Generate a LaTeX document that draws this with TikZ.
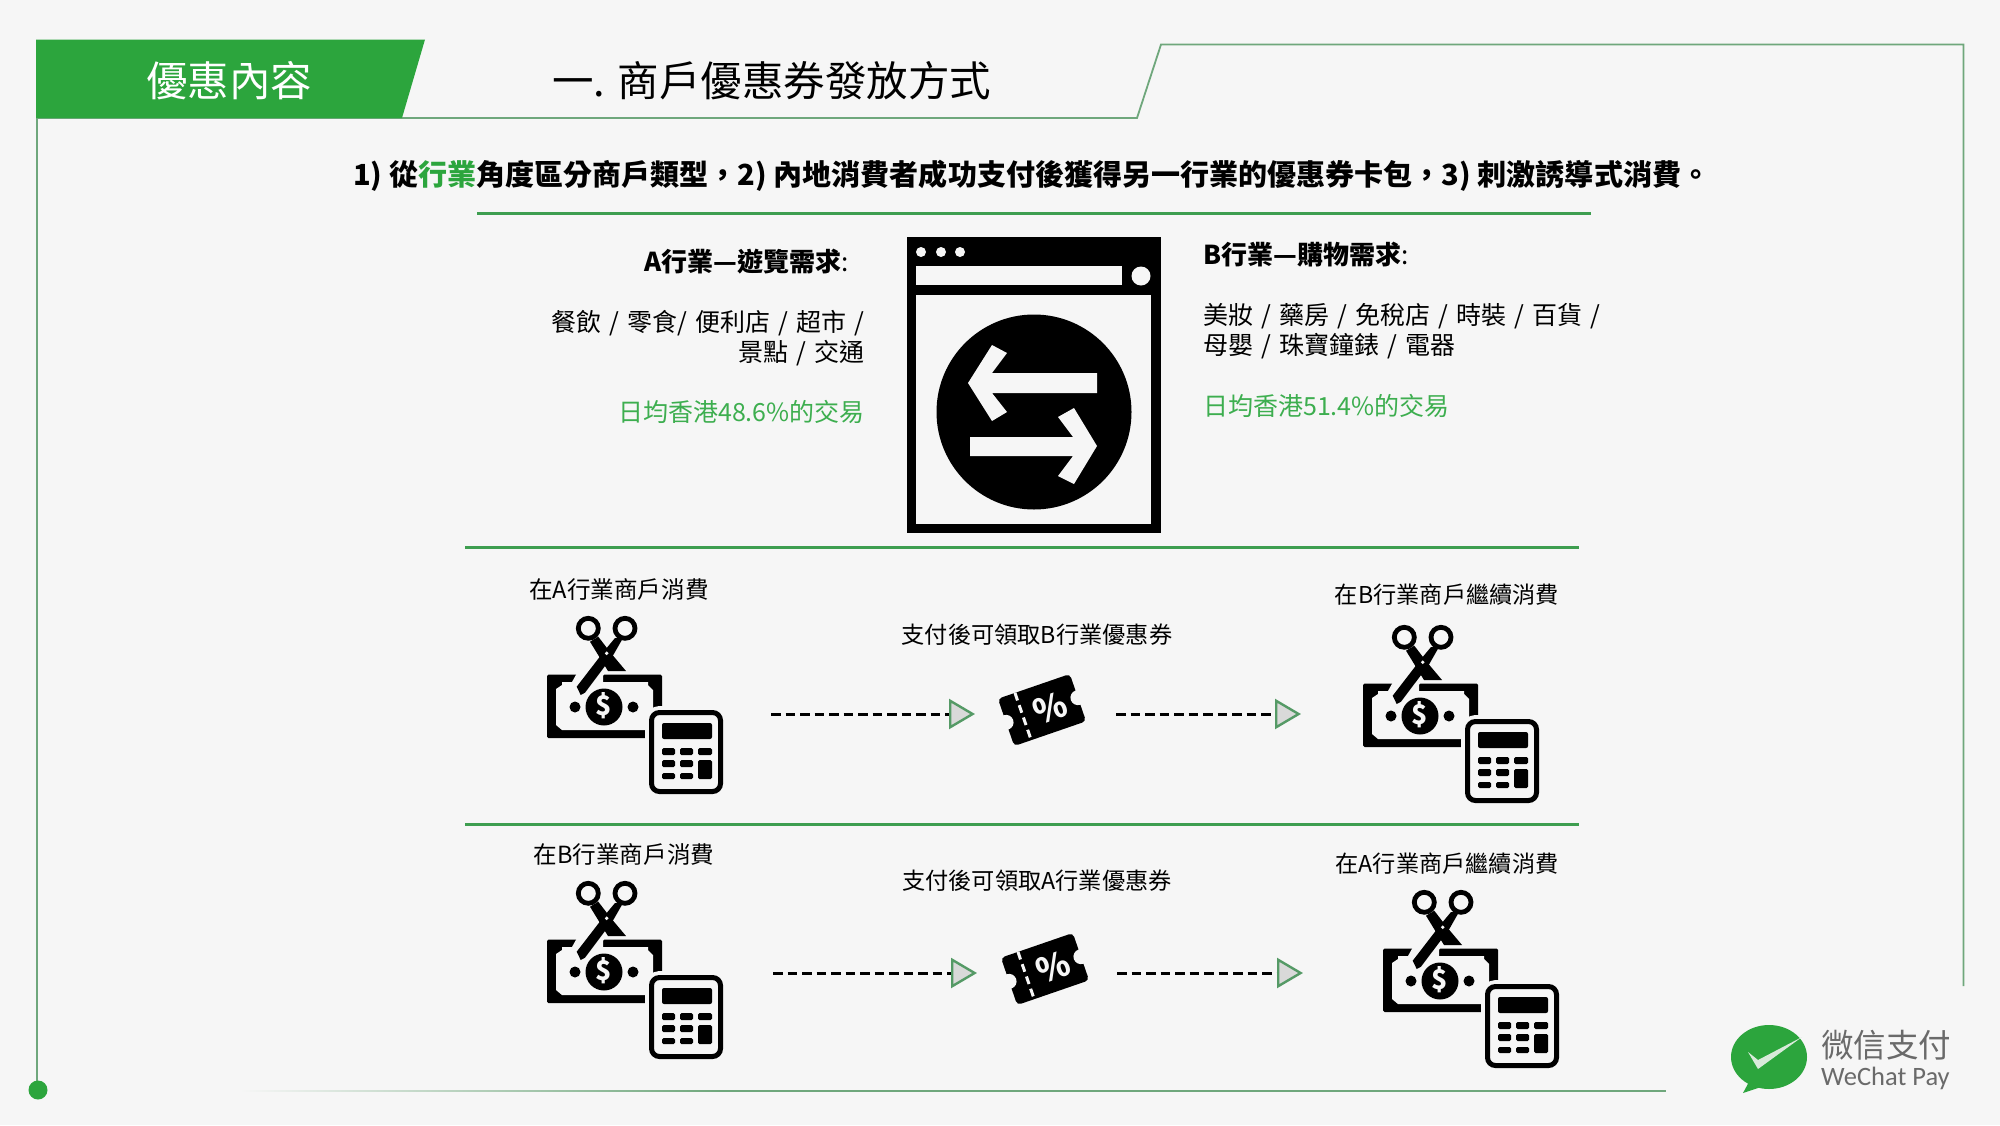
\documentclass[tikz,border=0pt]{standalone}
\usepackage{fontspec}
\setmainfont{Noto Sans CJK TC}
\newfontfamily\bodyf[WordSpace=1.45]{Noto Sans CJK TC}
\newfontfamily\latinlogo{Carlito}
\usetikzlibrary{arrows.meta}
\definecolor{bgc}{HTML}{F6F6F6}
\definecolor{hdr}{HTML}{2CA53D}
\definecolor{thinl}{HTML}{6FA77C}
\definecolor{rulec}{HTML}{3E9E50}
\definecolor{txtg}{HTML}{3DAE4F}
\definecolor{tipg}{HTML}{559A66}
\definecolor{logog}{HTML}{6A6A6A}
\newcommand{\fs}[1]{\fontsize{#1}{#1}\selectfont}
\tikzset{
  frameline/.style={draw=thinl,line width=1.8pt},
  rulegreen/.style={draw=rulec,line width=3pt},
  label/.style={inner sep=0pt,font=\fs{23.2}},
  shortlabel/.style={inner sep=0pt,font=\fs{23.6}},
  dashflow/.style={draw=black,line width=3pt,dash pattern=on 9.5pt off 5pt,
    -{Triangle[length=26pt,width=30pt,fill=black!15,color=tipg,line width=2.4pt]}},
  bodytxt/.style={inner sep=0pt,font=\bodyf\fs{25}},
  headtxt/.style={inner sep=0pt,font=\fs{26}}
}
\newcommand{\payicon}[2]{%
\begin{scope}[shift={(#1,#2)}]
  % note frame
  \fill[black,rounded corners=1.5pt] (27,74.5) rectangle (142,138);
  \fill[bgc] (42,82) -- (128,82) -- (128,85) -- (133,90) -- (133,125) -- (128,130) -- (42,130) -- (36,125) -- (36,89) -- (42,85) -- cycle;
  \fill[black] (84,107) circle (18.5);
  \fill[black] (55,107) circle (5.5);
  \fill[black] (113,107) circle (5.5);
  \node[inner sep=0pt,text=bgc,font=\fs{27}\bfseries] at (84,106) {\$};
  % scissors
  \fill[bgc] (57,73) -- (83,73) -- (83,83) -- (50,83) -- (52,82) -- cycle;
  \draw[bgc,line width=5pt] (93,58) -- (65,96);
  \draw[black,line width=4.8pt] (68.3,28.3) circle (10);
  \draw[black,line width=4.8pt] (105,28.3) circle (10);
  \fill[black] (70,41.7) -- (78.3,36.7) -- (90,52) -- (106,71) -- (88,71) -- (80,58) -- cycle;
  \fill[black] (103,38) -- (95,38) -- (85,50) -- (56.7,86.7) -- (60.7,95) -- (65,92.7) -- (93.3,55) -- cycle;
  \fill[bgc] (86.7,53.3) circle (1.9);
  % calculator
  \draw[bgc,line width=12pt,rounded corners=9pt,fill=bgc] (131,112) rectangle (201,192);
  \draw[black,line width=5pt,rounded corners=8pt,fill=bgc] (131.5,112.5) rectangle (200.5,191.5);
  \fill[black,rounded corners=2pt] (142,123) rectangle (192,139);
  \fill[black,rounded corners=1.5pt] (142,148) rectangle (155,155);
  \fill[black,rounded corners=1.5pt] (160,148) rectangle (173,155);
  \fill[black,rounded corners=1.5pt] (178,148) rectangle (192,155);
  \fill[black,rounded corners=1.5pt] (142,160) rectangle (155,167);
  \fill[black,rounded corners=1.5pt] (160,160) rectangle (173,167);
  \fill[black,rounded corners=1.5pt] (142,173) rectangle (155,179);
  \fill[black,rounded corners=1.5pt] (160,173) rectangle (173,179);
  \fill[black,rounded corners=1.5pt] (178,160) rectangle (192,179);
\end{scope}}
\newcommand{\coupon}[3]{%
\begin{scope}[shift={(#2,#3)},rotate=19]
  \fill[black,rounded corners=4pt] (-38,-25) rectangle (38,25);
  \fill[bgc] (-38,0) circle (7.5);
  \fill[bgc] (38,0) circle (7.5);
  \draw[bgc,line width=3pt,dash pattern=on 8pt off 5pt] (-20,-25) -- (-20,25);
  \node[inner sep=0pt,text=bgc,font=\fs{34}\bfseries,rotate=19] (#1) at (8,1) {\%};
\end{scope}}
\begin{document}
\begin{tikzpicture}[x=1pt,y=-1pt]
\useasboundingbox (0,0) rectangle (2000,1125);
\fill[bgc] (0,0) rectangle (2000,1125);
% frame
\draw[frameline] (36,118) -- (1137,118) -- (1161,44.5) -- (1963.5,44.5) -- (1963.5,986);
\draw[frameline] (37,118) -- (37,1090);
\fill[hdr] (38,1090) circle (9.5);
\shade[left color=bgc,right color=thinl] (240,1090) rectangle (720,1091.8);
\fill[thinl] (720,1090) rectangle (1666,1091.8);
\fill[hdr] (36,39.5) -- (425,39.5) -- (402,118) -- (36,118) -- cycle;
\node[inner sep=0pt,text=white,font=\fs{41.5}] (hd) at (229,81) {優惠內容};
\node[inner sep=0pt,font=\fs{41.5},anchor=west] (title) at (552,81) {一. 商戶優惠券發放方式};
\node[inner sep=0pt,font=\fs{29.05}\bfseries,anchor=west] (sub) at (353,176) {1) 從{\color{hdr}行業}角度區分商戶類型，2) 內地消費者成功支付後獲得另一行業的優惠券卡包，3) 刺激誘導式消費。};
% rules
\draw[rulegreen] (477,213) -- (1591,213);
\draw[rulegreen] (465,547) -- (1579,547);
\draw[rulegreen] (465,824) -- (1579,824);
% left column
\node[headtxt,anchor=east] (ah) at (849,262) {\textbf{A行業—遊覽需求}:};
\node[bodytxt,anchor=east] (al1) at (865,323) {餐飲 / 零食/ 便利店 / 超市 /};
\node[bodytxt,anchor=east] (al2) at (865,353) {景點 / 交通};
\node[bodytxt,anchor=east,text=txtg] (ag) at (865,412) {日均香港48.6\%的交易};
% right column
\node[headtxt,anchor=west] (bh) at (1203,255) {\textbf{B行業—購物需求}:};
\node[bodytxt,anchor=west] (bl1) at (1203,316) {美妝 / 藥房 / 免稅店 / 時裝 / 百貨 /};
\node[bodytxt,anchor=west] (bl2) at (1203,346) {母嬰 / 珠寶鐘錶 / 電器};
\node[bodytxt,anchor=west,text=txtg] (bg) at (1203,406) {日均香港51.4\%的交易};
% window icon
\fill[black] (907,237) rectangle (1161,533);
\fill[bgc] (916,295) rectangle (1151,524);
\fill[bgc] (916,266) rectangle (1122,285);
\fill[bgc] (1141,276) circle (9.5);
\fill[bgc] (921,252) circle (5);
\fill[bgc] (941,252) circle (5);
\fill[bgc] (960,252) circle (5);
\fill[black] (1034,412) circle (97.5);
\fill[bgc] (968,383) -- (992,345) -- (1007,353) -- (992,373) -- (1097,373) -- (1097,393) -- (992,393) -- (1007,412) -- (992,421) -- cycle;
\fill[bgc] (1097,446) -- (1074,408) -- (1058,417) -- (1073,437) -- (970,437) -- (970,456) -- (1073,456) -- (1058,476) -- (1074,484) -- cycle;
% icons
\payicon{520}{600}
\payicon{520}{865}
\payicon{1336}{609}
\payicon{1356}{874}
\coupon{pa}{1042}{710}
\coupon{pb}{1045}{969}
% labels
\node[shortlabel] (l1) at (619,590) {在A行業商戶消費};
\node[label] (l2) at (1037,635) {支付後可領取B行業優惠券};
\node[label] (l3) at (1447,595) {在B行業商戶繼續消費};
\node[shortlabel] (l4) at (624,855) {在B行業商戶消費};
\node[label] (l5) at (1037,881) {支付後可領取A行業優惠券};
\node[label] (l6) at (1447,864) {在A行業商戶繼續消費};
% dashed connectors
\coordinate (s1) at (771,714); \coordinate (e1) at (975,714);
\coordinate (s2) at (1116,714); \coordinate (e2) at (1301,714);
\coordinate (s3) at (773,973); \coordinate (e3) at (977,973);
\coordinate (s4) at (1117,973); \coordinate (e4) at (1303,973);
\draw[dashflow] (s1) -- (e1);
\draw[dashflow] (s2) -- (e2);
\draw[dashflow] (s3) -- (e3);
\draw[dashflow] (s4) -- (e4);
% logo
\fill[hdr] (1769,1057) ellipse (38 and 32);
\fill[hdr] (1750,1080) -- (1743,1093) -- (1764,1086) -- cycle;
\fill[bgc!85!hdr] (1748,1052) -- (1758,1060) -- (1802,1037) -- (1758,1069) -- cycle;
\node[inner sep=0pt,text=logog,font=\fs{32.5},anchor=west] (lg1) at (1821,1045) {微信支付};
\node[inner sep=0pt,text=logog,font=\latinlogo\fs{26.5},anchor=west] (lg2) at (1821,1078) {WeChat Pay};
\end{tikzpicture}
\end{document}
